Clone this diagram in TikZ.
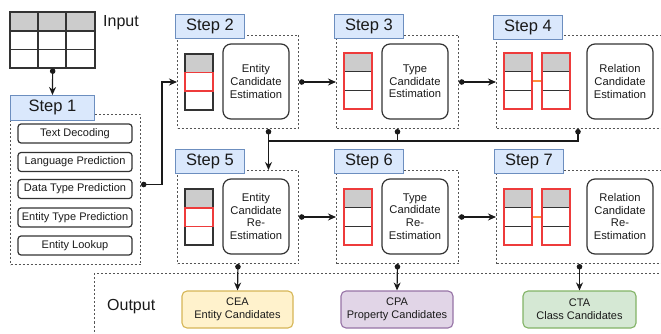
\documentclass[tikz,border=0pt]{standalone}
\usepackage{fontspec}
\setmainfont{Liberation Sans}
\usetikzlibrary{arrows.meta}
\definecolor{lblfill}{HTML}{DAE8FC}
\definecolor{lbldraw}{HTML}{6C8EBF}
\definecolor{hdrgray}{HTML}{CCCCCC}
\definecolor{redhi}{HTML}{EE3B3B}
\definecolor{linkorange}{HTML}{FF8C3A}
\definecolor{ceafill}{HTML}{FFF2CC}
\definecolor{ceadraw}{HTML}{D6B656}
\definecolor{cpafill}{HTML}{E1D5E7}
\definecolor{cpadraw}{HTML}{9673A6}
\definecolor{ctafill}{HTML}{D5E8D4}
\definecolor{ctadraw}{HTML}{82B366}
\definecolor{framegray}{HTML}{555555}
\definecolor{ink}{HTML}{1A1A1A}
\definecolor{tabgray}{HTML}{333333}

\begin{document}
\begin{tikzpicture}[x=1pt,y=-1pt,
  stepframe/.style={draw=framegray, line width=1pt, dash pattern=on 2pt off 2pt,
    inner sep=0pt, anchor=north west},
  steplabel/.style={draw=lbldraw, fill=lblfill, line width=0.9pt, minimum width=69pt,
    minimum height=24pt, inner sep=0pt, anchor=north west, text=ink,
    font=\fontsize{16.5}{18}\selectfont},
  item/.style={draw=tabgray, line width=1.2pt, rounded corners=3pt, minimum width=114pt,
    minimum height=19pt, inner sep=0pt, text=ink, font=\fontsize{11}{12}\selectfont},
  estbox/.style={draw=tabgray, line width=1.2pt, rounded corners=8pt, minimum width=66pt,
    minimum height=75pt, inner sep=0pt, align=center, text=ink,
    font=\fontsize{11.2}{12.6}\selectfont},
  outbox/.style={line width=1.1pt, rounded corners=5pt, minimum height=37pt, inner sep=0pt,
    align=center, text=ink, font=\fontsize{11}{13}\selectfont},
  bigtext/.style={anchor=west, inner sep=0pt, text=ink, font=\fontsize{16}{18}\selectfont},
  conn/.style={draw=ink, line width=1.2pt, {Circle[length=5.5pt]}-{Stealth[length=8pt,width=7pt]}},
  feed/.style={draw=ink, line width=1.2pt, {Circle[length=5.5pt]}-},
  tabline/.style={draw=tabgray, line width=1.3pt},
  redline/.style={draw=redhi, line width=1.6pt},
  % entity table: grey header, middle cell highlighted
  enttab/.pic={
    \fill[hdrgray] (0,0) rectangle (28,18.7);
    \draw[tabline] (0,0) rectangle (28,56);
    \draw[tabline] (0,18.7) -- (28,18.7) (0,37.3) -- (28,37.3);
    \draw[redline] (0,18.7) rectangle (28,37.3);
  },
  % column table: whole column highlighted
  coltab/.pic={
    \fill[hdrgray] (0,0) rectangle (28,18.7);
    \draw[tabline] (0,18.7) -- (28,18.7) (0,37.3) -- (28,37.3);
    \draw[redline] (0,0) rectangle (28,56);
  },
]
\useasboundingbox (0,0) rectangle (661,334);
\clip (0,0) rectangle (661,334);

% input table
\node[minimum width=85pt, minimum height=56pt, inner sep=0pt, anchor=north west] (intab) at (10,12) {};
\fill[hdrgray] (10,12) rectangle (95,31);
\draw[tabline] (10,12) rectangle (95,68);
\draw[tabline] (10,31) -- (95,31) (10,49.5) -- (95,49.5) (38,12) -- (38,68) (66,12) -- (66,68);
\node[bigtext] (inlbl) at (103,23) {Input};

% step 1
\node[stepframe, minimum width=130pt, minimum height=150pt] (s1box) at (10,114) {};
\node[steplabel, minimum width=84pt, minimum height=25pt] (s1lbl) at (10,95) {Step 1};
\node[item] (td)  at (75,133.5) {Text Decoding};
\node[item] (lp)  at (75,162)   {Language Prediction};
\node[item] (dtp) at (75,189)   {Data Type Prediction};
\node[item] (etp) at (75,217.5) {Entity Type Prediction};
\node[item] (el)  at (75,245.5) {Entity Lookup};

% steps 2-4
\node[stepframe, minimum width=121pt, minimum height=93pt] (s2box) at (177,35) {};
\node[stepframe, minimum width=122pt, minimum height=93pt] (s3box) at (336,35) {};
\node[stepframe, minimum width=180pt, minimum height=93pt] (s4box) at (496,35) {};
\node[steplabel] (s2lbl) at (175,14) {Step 2};
\node[steplabel] (s3lbl) at (334,14) {Step 3};
\node[steplabel] (s4lbl) at (493,15) {Step 4};
\pic at (185,54) {enttab};
\pic at (344,53) {coltab};
\pic at (504,53) {coltab};
\pic at (542,53) {coltab};
\draw[draw=linkorange, line width=1.3pt] (532.8,81) -- (541.2,81);
\node[estbox] (ece) at (256,81.5) {Entity\\Candidate\\Estimation};
\node[estbox] (tce) at (415,81.5) {Type\\Candidate\\Estimation};
\node[estbox] (rce) at (620,81.5) {Relation\\Candidate\\Estimation};

% steps 5-7
\node[stepframe, minimum width=121pt, minimum height=93pt] (s5box) at (177,170) {};
\node[stepframe, minimum width=122pt, minimum height=93pt] (s6box) at (336,170) {};
\node[stepframe, minimum width=180pt, minimum height=93pt] (s7box) at (496,170) {};
\node[steplabel] (s5lbl) at (175,149) {Step 5};
\node[steplabel] (s6lbl) at (334,149) {Step 6};
\node[steplabel] (s7lbl) at (494,149) {Step 7};
\pic at (185,189) {enttab};
\pic at (344,189) {coltab};
\pic at (504,189) {coltab};
\pic at (542,189) {coltab};
\draw[draw=linkorange, line width=1.3pt] (532.8,217) -- (541.2,217);
\node[estbox] (ecr) at (256,216.5) {Entity\\Candidate\\Re-\\Estimation};
\node[estbox] (tcr) at (415,216.5) {Type\\Candidate\\Re-\\Estimation};
\node[estbox] (rcr) at (620,216.5) {Relation\\Candidate\\Re-\\Estimation};

% output
\node[stepframe, minimum width=580pt, minimum height=80pt] (outbox) at (94,273) {};
\node[bigtext] (outlbl) at (107,307) {Output};
\node[outbox, draw=ceadraw, fill=ceafill, minimum width=111pt] (cea) at (237.5,309.5) {CEA\\Entity Candidates};
\node[outbox, draw=cpadraw, fill=cpafill, minimum width=112pt] (cpa) at (397,309.5) {CPA\\Property Candidates};
\node[outbox, draw=ctadraw, fill=ctafill, minimum width=113pt] (cta) at (579.5,309.5) {CTA\\Class Candidates};

% connectors
\draw[conn] (intab.south) -- (s1lbl.north);
\draw[conn] ([yshift=5pt]s1box.east) -- ++(21,0) |- (s2box.west);
\draw[conn] (s2box.east) -- (s3box.west);
\draw[conn] (s3box.east) -- (s4box.west);
\coordinate (bus) at (268,141);
\draw[feed] ([xshift=82pt]s4box.south west) |- (bus);
\draw[feed] (s3box.south) -- (s3box.south |- bus);
\draw[conn] ([xshift=30.5pt]s2box.south) -- ([xshift=30.5pt]s5box.north);
\draw[conn] (s5box.south) -- (cea.north);
\draw[conn] (s6box.south) -- (cpa.north);
\draw[conn] (cta.north |- s7box.south) -- (cta.north);
\draw[conn] (s5box.east) -- (s6box.west);
\draw[conn] (s6box.east) -- (s7box.west);
\end{tikzpicture}
\end{document}
